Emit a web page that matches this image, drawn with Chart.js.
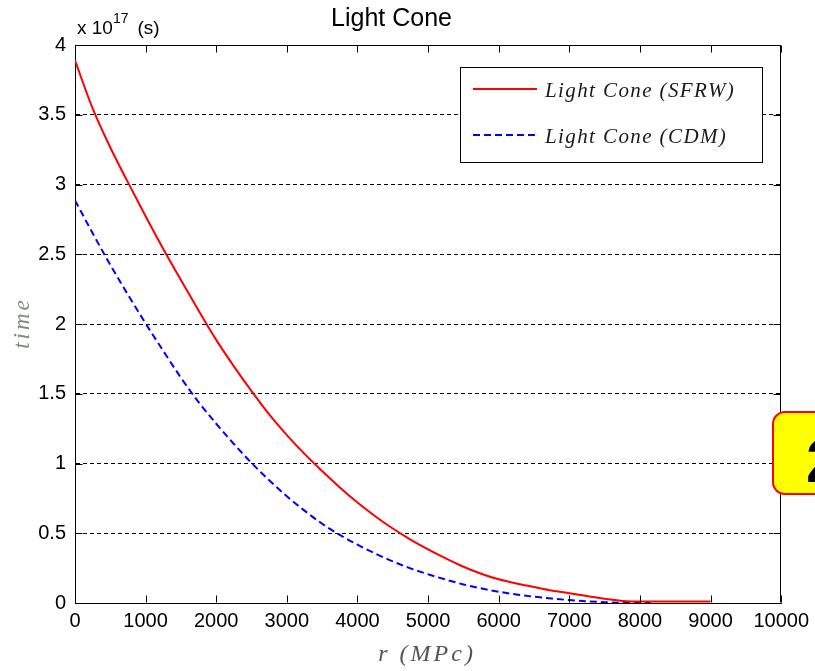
<!DOCTYPE html>
<html>
<head>
<meta charset="utf-8">
<title>Light Cone</title>
<script src="https://cdn.jsdelivr.net/npm/chart.js@4.4.0/dist/chart.umd.min.js"></script>
<style>
  html, body { margin: 0; padding: 0; background: #fff; overflow: hidden; }
  #wrap { position: relative; width: 815px; height: 671px; }
  #badge {
    position: absolute; left: 772px; top: 411px; width: 70px; height: 84px;
    box-sizing: border-box; background: #ffff00; border: 2px solid #ff0000; border-radius: 13px;
  }
  #badge span {
    position: absolute; left: 32px; top: 17px;
    font: bold 62px/62px "Liberation Sans", Arial, sans-serif; color: #000;
  }
</style>
</head>
<body>
<div id="wrap">
  <canvas id="myChart" width="815" height="671"></canvas>
  <div id="badge"><span>2</span></div>
</div>
<script>
// r in Mpc, time in units of 1e17 s
const sfrwRadius = [0, 250, 500, 750, 1000, 1250, 1500, 1750, 2000, 2250, 2500, 2750, 3000, 3250, 3500, 3750,
  4000, 4250, 4500, 4750, 5000, 5250, 5500, 5750, 6000, 6250, 6500, 6750, 7000, 7250, 7500, 7750, 8000, 8500, 9000];
const sfrwTime = [3.89, 3.545, 3.265, 3.015, 2.772, 2.538, 2.315, 2.097, 1.886, 1.696, 1.519, 1.352, 1.204, 1.069, 0.946, 0.828,
  0.72, 0.622, 0.534, 0.455, 0.385, 0.32, 0.26, 0.21, 0.17, 0.14, 0.115, 0.09, 0.07, 0.05, 0.03, 0.015, 0.01, 0.01, 0.01];

const cdmRadius = [0, 250, 500, 750, 1000, 1250, 1500, 1750, 2000, 2250, 2500, 2750, 3000, 3250, 3500, 3750,
  4000, 4250, 4500, 4750, 5000, 5250, 5500, 5750, 6000, 6250, 6500, 6750, 7000, 7250, 7500, 7750, 8000, 8150];
const cdmTime = [2.886, 2.651, 2.424, 2.21, 2.004, 1.807, 1.615, 1.44, 1.285, 1.14, 1.004, 0.88, 0.765, 0.662, 0.568, 0.488,
  0.418, 0.355, 0.298, 0.248, 0.206, 0.168, 0.133, 0.105, 0.081, 0.061, 0.045, 0.032, 0.021, 0.012, 0.006, 0.002, 0, 0];

const seriesNames = ['Light Cone (SFRW)', 'Light Cone (CDM)'];
const xTicks = [0, 1000, 2000, 3000, 4000, 5000, 6000, 7000, 8000, 9000, 10000];
const yTicks = [0, 0.5, 1, 1.5, 2, 2.5, 3, 3.5, 4];

const toPoints = (xs, ys) => xs.map((r, i) => ({ x: r, y: ys[i] }));

const sans = '"Liberation Sans", Arial, sans-serif';
const serif = '"Liberation Serif", "Times New Roman", serif';

// matlab style box: top/right edges plus inward tick marks
const axesBox = {
  id: 'axesBox',
  afterDatasetsDraw(chart) {
    const { ctx, chartArea: a, scales: { x, y } } = chart;
    const L = Math.round(a.left) + 0.5, R = Math.round(a.right) - 0.5;
    const T = Math.round(a.top) + 0.5, B = Math.round(a.bottom) - 0.5;
    ctx.save();
    ctx.strokeStyle = '#000';
    ctx.lineWidth = 1;
    ctx.beginPath();
    ctx.moveTo(L, T); ctx.lineTo(R, T); ctx.lineTo(R, B);
    x.ticks.forEach(t => {
      const px = Math.round(x.getPixelForValue(t.value)) + 0.5;
      ctx.moveTo(px, B); ctx.lineTo(px, B - 7);
      ctx.moveTo(px, T); ctx.lineTo(px, T + 7);
    });
    y.ticks.forEach(t => {
      const py = Math.round(y.getPixelForValue(t.value)) + 0.5;
      ctx.moveTo(L, py); ctx.lineTo(L + 7, py);
      ctx.moveTo(R, py); ctx.lineTo(R - 7, py);
    });
    ctx.stroke();
    ctx.restore();
  },
  afterDraw(chart) {
    const { ctx, chartArea: a } = chart;
    ctx.save();

    // exponent above the y axis
    ctx.fillStyle = '#000';
    ctx.textBaseline = 'alphabetic';
    ctx.font = '19px ' + sans;
    ctx.fillText('x 10', a.left + 2, 34);
    let w = ctx.measureText('x 10').width;
    ctx.font = '14px ' + sans;
    ctx.fillText('17', a.left + 2 + w, 23);
    w += ctx.measureText('17').width + 9;
    ctx.font = '19px ' + sans;
    ctx.fillText('(s)', a.left + 2 + w, 34);

    // axis titles
    ctx.letterSpacing = '3px';
    ctx.textAlign = 'center';
    ctx.textBaseline = 'middle';
    ctx.font = 'italic 24px ' + serif;
    ctx.fillStyle = '#555';
    ctx.fillText('r (MPc)', (a.left + a.right) / 2 - 1, 655);
    ctx.save();
    ctx.translate(23, (a.top + a.bottom) / 2);
    ctx.rotate(-Math.PI / 2);
    ctx.fillStyle = '#7a8c7a';
    ctx.font = 'italic 23px ' + serif;
    ctx.fillText('time', 1, 0);
    ctx.restore();

    // legend box
    const bx = 460.5, by = 67.5, bw = 302, bh = 95;
    ctx.fillStyle = '#fff';
    ctx.fillRect(bx, by, bw, bh);
    ctx.strokeStyle = '#000';
    ctx.lineWidth = 1;
    ctx.strokeRect(bx, by, bw, bh);
    ctx.letterSpacing = '1.4px';
    ctx.textAlign = 'left';
    ctx.font = 'italic 21px ' + serif;
    chart.data.datasets.forEach((ds, i) => {
      const ly = 89 + i * 46;
      ctx.strokeStyle = ds.borderColor;
      ctx.lineWidth = ds.borderWidth;
      ctx.setLineDash(ds.borderDash || []);
      ctx.beginPath();
      ctx.moveTo(473, ly); ctx.lineTo(537, ly);
      ctx.stroke();
      ctx.setLineDash([]);
      ctx.fillStyle = '#1a1a1a';
      ctx.fillText(ds.label, 545, ly + 2);
    });
    ctx.restore();
  }
};

new Chart('myChart', {
  type: 'line',
  data: {
    datasets: [{
      label: seriesNames[0],
      data: toPoints(sfrwRadius, sfrwTime),
      borderColor: '#ff0000',
      borderWidth: 2,
      pointRadius: 0,
      cubicInterpolationMode: 'monotone'
    }, {
      label: seriesNames[1],
      data: toPoints(cdmRadius, cdmTime),
      borderColor: '#0000ff',
      borderWidth: 2,
      borderDash: [7, 4],
      pointRadius: 0,
      cubicInterpolationMode: 'monotone'
    }]
  },
  options: {
    responsive: false,
    animation: false,
    devicePixelRatio: 1,
    layout: { padding: { left: 0, right: 32, top: 0, bottom: 0 } },
    plugins: {
      legend: { display: false },
      tooltip: { enabled: false },
      title: {
        display: true,
        text: 'Light Cone',
        color: '#000',
        font: { family: sans, size: 25, weight: 'normal', lineHeight: 1.2 },
        padding: { top: 4, bottom: 11 }
      }
    },
    scales: {
      x: {
        type: 'linear',
        min: 0, max: 10000,
        afterBuildTicks: s => { s.ticks = xTicks.map(v => ({ value: v })); },
        afterFit: s => { s.height = 68; },
        grid: { display: false, drawTicks: false },
        border: { display: true, color: '#000', width: 1 },
        ticks: { color: '#000', font: { family: sans, size: 20 }, padding: 6, autoSkip: false, maxRotation: 0, callback: v => String(v) }
      },
      y: {
        type: 'linear',
        min: 0, max: 4,
        afterBuildTicks: s => { s.ticks = yTicks.map(v => ({ value: v })); },
        afterFit: s => { s.width = 75; },
        grid: { display: true, color: '#000', lineWidth: 1, drawTicks: false },
        border: { display: true, color: '#000', width: 1, dash: [4, 3] },
        ticks: { color: '#000', font: { family: sans, size: 20 }, padding: 9, callback: v => String(v) }
      }
    }
  },
  plugins: [axesBox]
});
</script>
</body>
</html>
